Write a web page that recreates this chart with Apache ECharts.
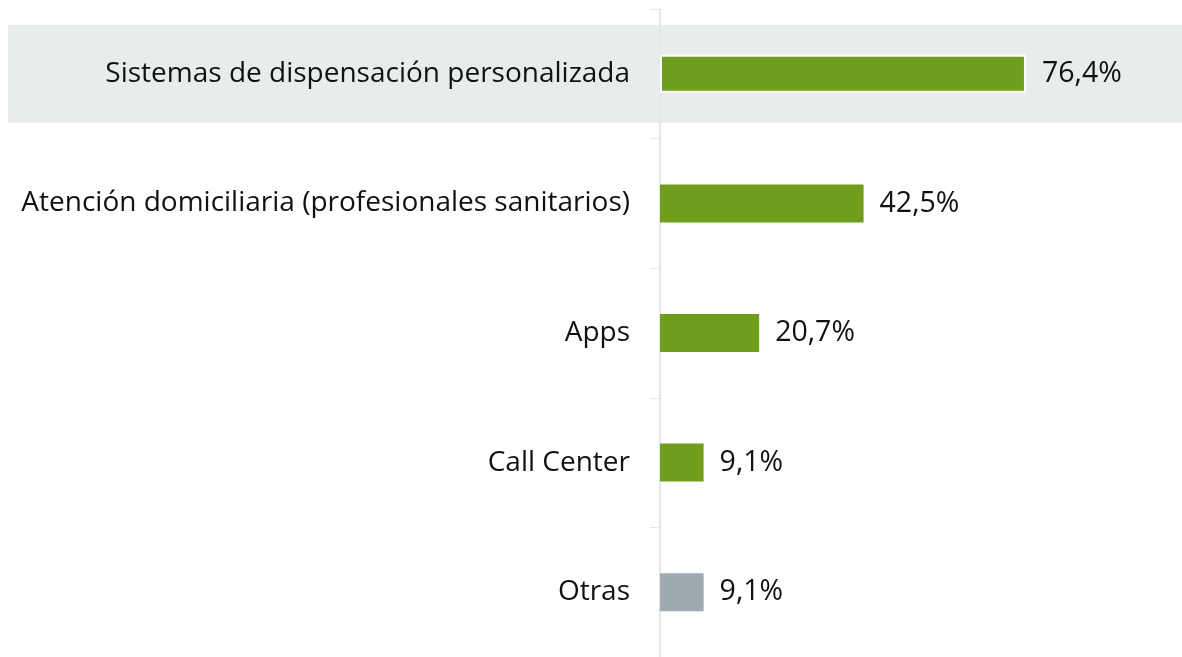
<!DOCTYPE html>
<html>
<head>
<meta charset="utf-8">
<script src="https://cdn.jsdelivr.net/npm/echarts@6/dist/echarts.min.js"></script>
<style>
  html, body { margin: 0; padding: 0; background: #fff; }
  #main { width: 1182px; height: 657px; }
</style>
</head>
<body>
<div id="main"></div>
<script>
// datos
var categorias = ['Sistemas de dispensación personalizada', 'Atención domiciliaria (profesionales sanitarios)', 'Apps', 'Call Center', 'Otras'];
var valores = [76.4, 42.5, 20.7, 9.1, 9.1];
var colores = ['#6f9e1d', '#6f9e1d', '#6f9e1d', '#6f9e1d', '#9eaab0'];
var resaltado = 0; // fila con sombra

var fuente = '"Open Sans", sans-serif';
var chart = echarts.init(document.getElementById('main'));

var option = {
  animation: false,
  grid: { left: 660, right: 43, top: 9, bottom: -2 },
  xAxis: {
    type: 'value',
    min: 0,
    max: 100,
    show: false
  },
  yAxis: {
    type: 'category',
    inverse: true,
    data: categorias,
    axisLine: { show: true, lineStyle: { color: '#e6e6e6', width: 2 } },
    axisTick: { show: true, length: 10, lineStyle: { color: '#e6e6e6', width: 1 } },
    axisLabel: {
      margin: 30,
      fontSize: 28,
      fontFamily: fuente,
      color: '#111'
    }
  },
  series: [{
    type: 'bar',
    barWidth: 38,
    z: 3,
    data: valores.map(function (v, i) {
      var item = { value: v, itemStyle: { color: colores[i] } };
      if (i === resaltado) {
        item.itemStyle.borderColor = '#fff';
        item.itemStyle.borderWidth = 2;
      }
      return item;
    }),
    label: {
      show: true,
      position: 'right',
      distance: 16,
      fontSize: 28.5,
      fontFamily: fuente,
      color: '#111',
      formatter: function (p) { return String(p.value.toFixed(1)).replace('.', ',') + '%'; }
    }
  }]
};
chart.setOption(option);

// sombra de la fila resaltada
var yc = chart.convertToPixel({ yAxisIndex: 0 }, categorias[resaltado]);
var y1 = chart.convertToPixel({ yAxisIndex: 0 }, categorias[resaltado + 1]);
var banda = Math.abs(y1 - yc);
var alto = banda * 0.755;
chart.setOption({
  graphic: [{
    type: 'rect',
    z: -1,
    shape: { x: 8, y: yc - alto / 2, width: 1182 - 8, height: alto },
    style: { fill: '#e9eced' },
    silent: true
  }]
});
</script>
</body>
</html>
